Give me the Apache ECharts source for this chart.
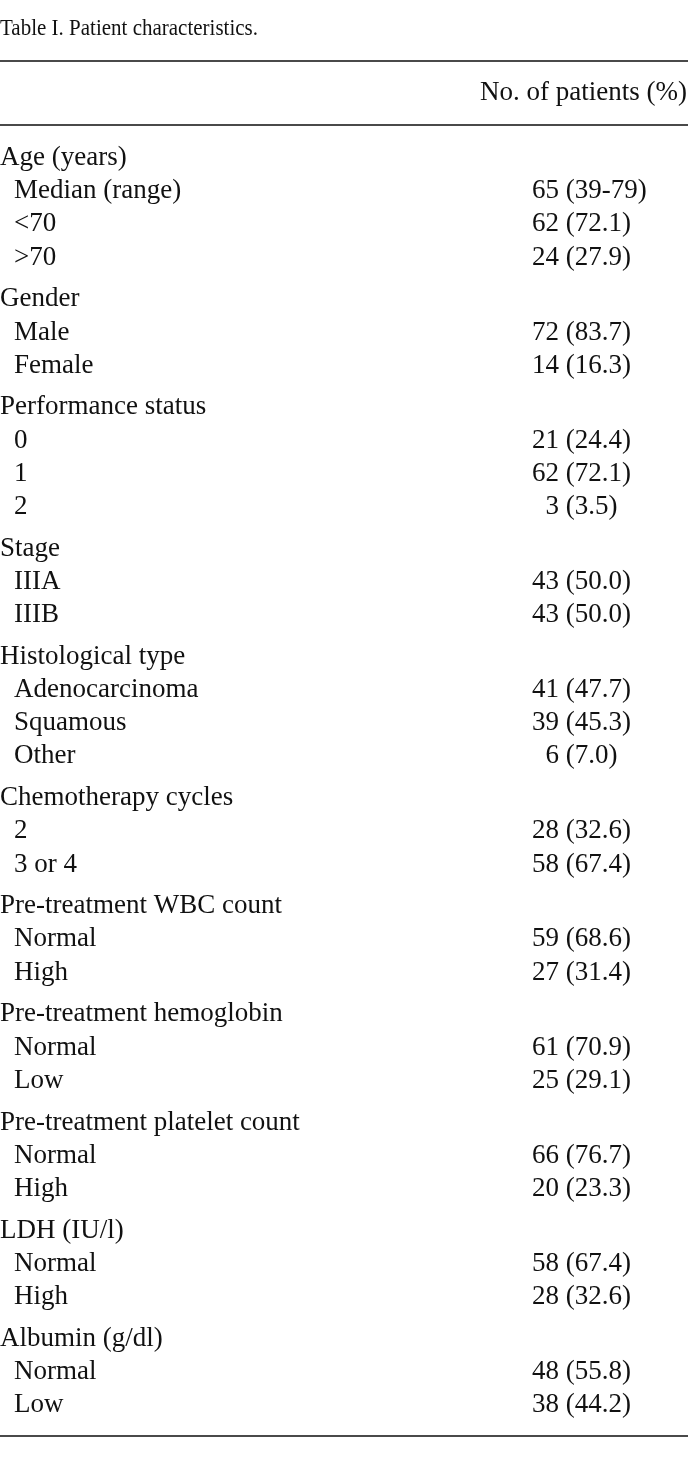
<!DOCTYPE html>
<html>
<head>
<meta charset="utf-8">
<script src="https://cdn.jsdelivr.net/npm/echarts@6/dist/echarts.min.js"></script>
<style>
html,body{margin:0;padding:0;background:#fff;}
#main{width:688px;height:1460px;}
</style>
</head>
<body>
<div id="main"></div>
<script>
// ---- table content ----
const tableTitle = 'Table I. Patient characteristics.';
const columnHeader = 'No. of patients (%)';
const groupNames = [
  'Age (years)', 'Gender', 'Performance status', 'Stage', 'Histological type',
  'Chemotherapy cycles', 'Pre-treatment WBC count', 'Pre-treatment hemoglobin',
  'Pre-treatment platelet count', 'LDH (IU/l)', 'Albumin (g/dl)'
];
const itemNames = [
  ['Median (range)', '<70', '>70'],
  ['Male', 'Female'],
  ['0', '1', '2'],
  ['IIIA', 'IIIB'],
  ['Adenocarcinoma', 'Squamous', 'Other'],
  ['2', '3 or 4'],
  ['Normal', 'High'],
  ['Normal', 'Low'],
  ['Normal', 'High'],
  ['Normal', 'High'],
  ['Normal', 'Low']
];
const itemCounts = [
  [65, 62, 24],
  [72, 14],
  [21, 62, 3],
  [43, 43],
  [41, 39, 6],
  [28, 58],
  [59, 27],
  [61, 25],
  [66, 20],
  [58, 28],
  [48, 38]
];
const itemParens = [
  ['39-79', '72.1', '27.9'],
  ['83.7', '16.3'],
  ['24.4', '72.1', '3.5'],
  ['50.0', '50.0'],
  ['47.7', '45.3', '7.0'],
  ['32.6', '67.4'],
  ['68.6', '31.4'],
  ['70.9', '29.1'],
  ['76.7', '23.3'],
  ['67.4', '32.6'],
  ['55.8', '44.2']
];

// ---- layout / style ----
const FONT = "'Liberation Serif', 'Times New Roman', serif";
const BODY_SIZE = 27;
const TITLE_SIZE = 21;
const GROUP_GAP = 0.26;     // extra space before each group, in row units
const INDENT = 14;
const VALUE_X = 532;
const COUNT_W = 27;
const TEXT_COLOR = '#111';
const RULE_COLOR = '#4a4a4a';

// build row table
const rows = [];
let r = 0;
groupNames.forEach((g, gi) => {
  rows.push([r + gi * GROUP_GAP, g, '', '', 0]);
  r++;
  itemNames[gi].forEach((name, ii) => {
    rows.push([r + gi * GROUP_GAP, name, String(itemCounts[gi][ii]), ' (' + itemParens[gi][ii] + ')', 1]);
    r++;
  });
});
const yMax = (r - 1) + (groupNames.length - 1) * GROUP_GAP;

function renderItem(params, api) {
  const y = api.value(0);
  const pt = api.coord([0, y]);
  const isItem = api.value(4) === 1;
  const base = {fontSize: BODY_SIZE, fontFamily: FONT, fill: TEXT_COLOR, verticalAlign: 'middle'};
  const children = [{
    type: 'text', x: pt[0] + (isItem ? INDENT : 0), y: pt[1],
    style: Object.assign({}, base, {text: api.value(1), align: 'left'})
  }];
  if (isItem) {
    children.push({
      type: 'text', x: pt[0] + VALUE_X + COUNT_W, y: pt[1],
      style: Object.assign({}, base, {text: api.value(2), align: 'right'})
    });
    children.push({
      type: 'text', x: pt[0] + VALUE_X + COUNT_W, y: pt[1],
      style: Object.assign({}, base, {text: api.value(3), align: 'left'})
    });
  }
  return {type: 'group', children: children};
}

const chart = echarts.init(document.getElementById('main'), null, {renderer: 'canvas'});
chart.setOption({
  animation: false,
  backgroundColor: '#fff',
  grid: {left: 0, right: 0, top: 158, bottom: 55},
  xAxis: {type: 'value', min: 0, max: 688, show: false},
  yAxis: {type: 'value', inverse: true, min: 0, max: yMax, show: false},
  graphic: [
    {type: 'text', x: 0, y: 29, scaleY: 1.12, style: {text: tableTitle, fontSize: TITLE_SIZE, fontFamily: FONT, fill: TEXT_COLOR, verticalAlign: 'middle', align: 'left'}},
    {type: 'line', shape: {x1: 0, y1: 61, x2: 688, y2: 61}, style: {stroke: RULE_COLOR, lineWidth: 2}},
    {type: 'text', x: 687, y: 92.5, style: {text: columnHeader, fontSize: BODY_SIZE, fontFamily: FONT, fill: TEXT_COLOR, verticalAlign: 'middle', align: 'right'}},
    {type: 'line', shape: {x1: 0, y1: 125, x2: 688, y2: 125}, style: {stroke: RULE_COLOR, lineWidth: 2}},
    {type: 'line', shape: {x1: 0, y1: 1436, x2: 688, y2: 1436}, style: {stroke: RULE_COLOR, lineWidth: 2}}
  ],
  series: [{
    type: 'custom',
    renderItem: renderItem,
    clip: false,
    encode: {x: -1, y: 0},
    data: rows
  }]
});
</script>
</body>
</html>
